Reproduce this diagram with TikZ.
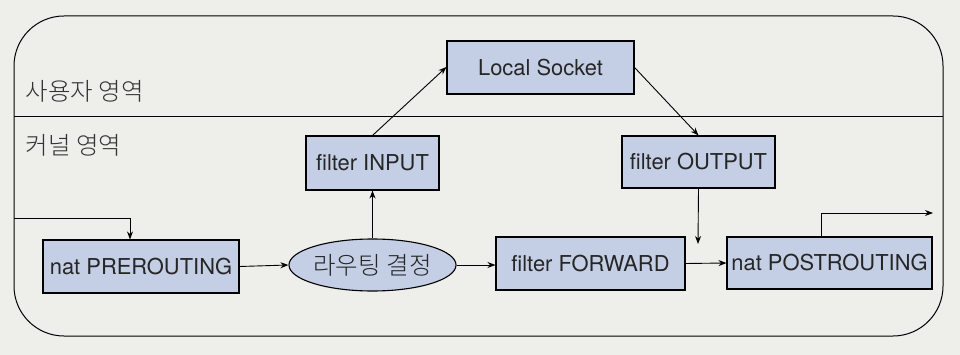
\documentclass[tikz,border=0pt]{standalone}
\usepackage{fontspec}
\setmainfont{TeX Gyre Heros}
\newfontfamily\krfont{Noto Sans CJK KR Light}
\usetikzlibrary{shapes.geometric,arrows.meta}
\definecolor{bgc}{RGB}{238,239,234}
\definecolor{boxc}{RGB}{196,207,230}
\begin{document}
\begin{tikzpicture}[x=1pt,y=-1pt,
  font=\fontsize{21.9}{25}\selectfont,
  blk/.style={draw=black, line width=1.1pt, fill=boxc, inner sep=0pt, text=black!85},
  conn/.style={draw=black, line width=0.9pt, -{Stealth[length=8pt,width=6pt]}},
  lbl/.style={font=\krfont\fontsize{24.5}{28}\selectfont, anchor=west, text=black!80}]
\useasboundingbox (0,0) rectangle (960,355);
\fill[bgc] (0,0) rectangle (960,355);
% outer frame
\draw[line width=1pt, rounded corners=50pt] (14,16) rectangle (943,336);
\draw[line width=1pt] (14,117) -- (943,117);
\node[lbl] (user) at (22,91) {사용자 영역};
\node[lbl] (kern) at (22,145) {커널 영역};
% boxes
\node[blk, minimum width=187pt, minimum height=53pt] (sock) at (540.5,67.5) {Local Socket};
\node[blk, minimum width=133pt, minimum height=54pt] (fin) at (372.5,163) {filter INPUT};
\node[blk, minimum width=153pt, minimum height=52pt] (fout) at (698.5,162) {filter OUTPUT};
\node[blk, minimum width=196pt, minimum height=53pt] (pre) at (141,266.5) {nat PREROUTING};
\node[blk, ellipse, minimum width=165pt, minimum height=52pt, font=\krfont\fontsize{24.5}{28}\selectfont] (route) at (372.5,265) {라우팅 결정};
\node[blk, minimum width=189pt, minimum height=53pt] (fwd) at (590.5,263.5) {filter FORWARD};
\node[blk, minimum width=205pt, minimum height=52pt] (post) at (829.5,263) {nat POSTROUTING};
\coordinate (inL) at (14,218);
\coordinate (outR) at (933,213);
\coordinate (mid) at (698,244);
% connectors
\draw[conn] (inL) -| (pre.north west -| 130,0);
\draw[conn] (pre.east) -- (route.west);
\draw[conn] (route.north) -- (fin.south);
\draw[conn] (fin.north) -- (sock.west |- 0,67);
\draw[conn] (sock.east) -- (fout.north);
\draw[conn] (fout.south) -- (mid);
\draw[conn] (route.east) -- (fwd.west |- route.east);
\draw[conn] (fwd.east) -- (post.west);
\draw[conn] (post.north -| 821,0) |- (outR);
\end{tikzpicture}
\end{document}
